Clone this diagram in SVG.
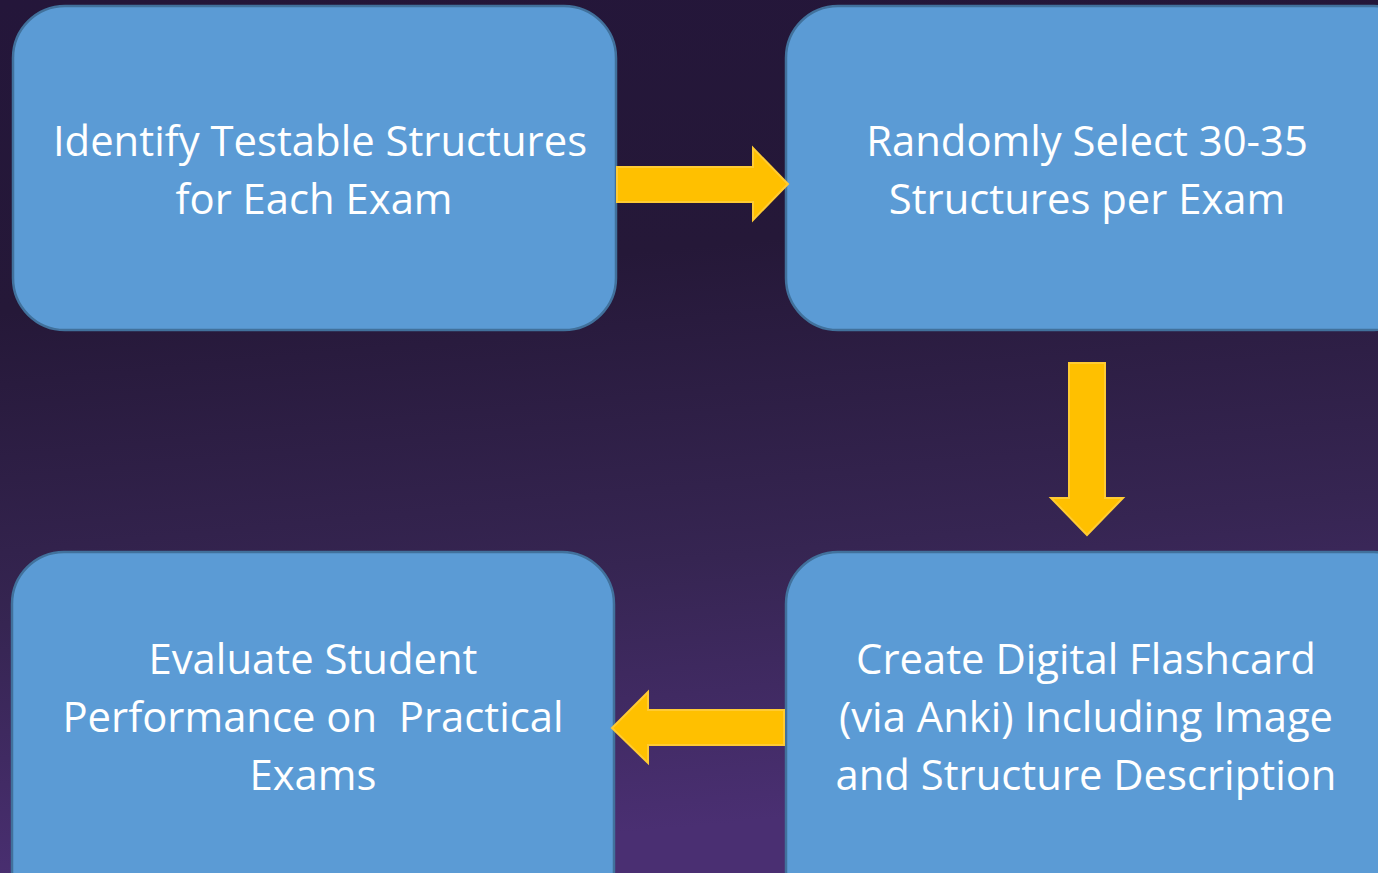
<svg xmlns="http://www.w3.org/2000/svg" width="1378" height="873" viewBox="0 0 1378 873">
  <defs>
    <linearGradient id="bg" x1="0" y1="0" x2="0.15" y2="1">
      <stop offset="0" stop-color="#24163a"/>
      <stop offset="0.35" stop-color="#251838"/>
      <stop offset="0.7" stop-color="#362552"/>
      <stop offset="1" stop-color="#4a2f72"/>
    </linearGradient>
    <style>
      .box { fill: #5b9bd5; stroke: #41719c; stroke-width: 2.5; }
      .lbl { font-family: "Open Sans", "Noto Sans", "Liberation Sans", sans-serif; font-size: 41.8px; fill: #ffffff; text-anchor: middle; }
      .arr { fill: #ffc000; stroke: #ffcb33; stroke-width: 2; stroke-linejoin: miter; }
    </style>
  </defs>
  <rect x="0" y="0" width="1378" height="873" fill="url(#bg)"/>

  <g id="node-identify">
    <rect class="box" x="13" y="6" width="603" height="324" rx="52" ry="52"/>
    <text class="lbl" x="320" y="156">Identify Testable Structures</text>
    <text class="lbl" x="314" y="214">for Each Exam</text>
  </g>
  <g id="node-select">
    <rect class="box" x="786" y="6" width="640" height="324" rx="52" ry="52"/>
    <text class="lbl" x="1087" y="156">Randomly Select 30-35</text>
    <text class="lbl" x="1087" y="214">Structures per Exam</text>
  </g>
  <g id="node-create">
    <rect class="box" x="786" y="552" width="640" height="370" rx="52" ry="52"/>
    <text class="lbl" x="1086" y="674">Create Digital Flashcard</text>
    <text class="lbl" x="1086" y="732">(via Anki) Including Image</text>
    <text class="lbl" x="1086" y="790">and Structure Description</text>
  </g>
  <g id="node-evaluate">
    <rect class="box" x="12" y="552" width="602" height="370" rx="52" ry="52"/>
    <text class="lbl" x="313" y="674">Evaluate Student</text>
    <text class="lbl" x="313" y="732" xml:space="preserve">Performance on  Practical</text>
    <text class="lbl" x="313" y="790">Exams</text>
  </g>

  <g id="connectors">
    <polygon class="arr" points="617,167 753,167 753,148 788,184 753,220 753,202 617,202"/>
    <polygon class="arr" points="1069,363 1105,363 1105,498 1123,498 1087,535 1051,498 1069,498"/>
    <polygon class="arr" points="784,710 648,710 648,692 612,728 648,763 648,745 784,745"/>
  </g>
</svg>
